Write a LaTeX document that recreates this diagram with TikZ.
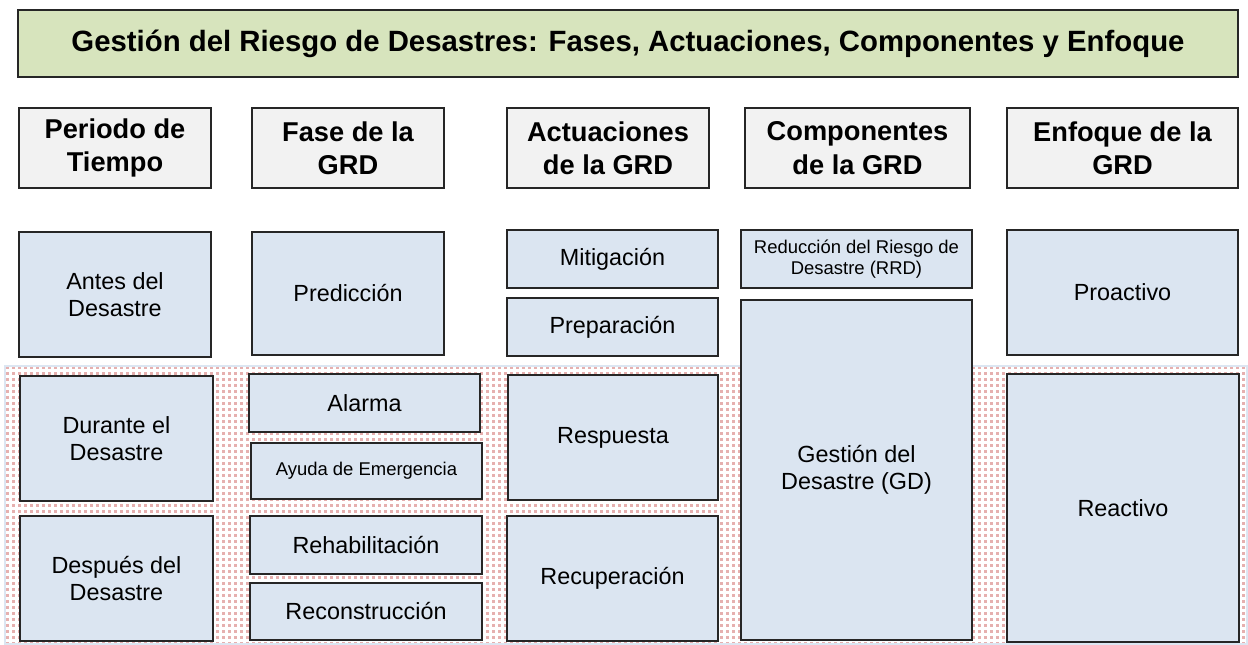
\documentclass[tikz,border=0pt]{standalone}
\usepackage{fontspec}
\setmainfont{Liberation Sans}
\usetikzlibrary{patterns.meta}
\definecolor{titlegreen}{HTML}{D7E4BD}
\definecolor{headgray}{HTML}{F2F2F2}
\definecolor{cellblue}{HTML}{DBE5F1}
\definecolor{dotpink}{HTML}{E6B0AF}
\definecolor{edgeblue}{HTML}{DCE6F2}

\tikzdeclarepattern{
  name=pinkdots,
  type=uncolored,
  bounding box={(0pt,0pt) and (3.2pt,3.2pt)},
  tile size={(3.2pt,3.2pt)},
  code={\fill (0pt,0pt) rectangle (1.7pt,1.7pt);}
}

\begin{document}
\begin{tikzpicture}[
    x=0.02cm, y=-0.02cm,
    box/.style={draw=black!85, line width=0.8pt, inner sep=0pt, align=center},
    titlebox/.style={box, fill=titlegreen, font=\fontsize{16.7}{19}\selectfont\bfseries},
    head/.style={box, fill=headgray, minimum height=1.6cm, font=\fontsize{15.5}{19}\selectfont\bfseries},
    cell/.style={box, fill=cellblue, font=\fontsize{13.3}{15.3}\selectfont},
    small/.style={cell, font=\fontsize{10.5}{12}\selectfont}
]
\useasboundingbox (0,0) rectangle (1248,645);

% Fondo de las fases durante y despues
\draw[edgeblue, line width=1.2pt, pattern=pinkdots, pattern color=dotpink] (5,366) rectangle (1247,644);

% Titulo
\node[titlebox, minimum width=24.4cm, minimum height=1.34cm] (titulo) at (628,43.5)
    {Gestión del Riesgo de Desastres: Fases, Actuaciones, Componentes y Enfoque};

% Encabezados
\node[head, minimum width=3.84cm] (periodo) at (115,148) {Periodo de\\Tiempo};
\node[head, minimum width=3.84cm] (fase) at (348,148) {Fase de la\\GRD};
\node[head, minimum width=4.04cm] (actuaciones) at (608,148) {Actuaciones\\de la GRD};
\node[head, minimum width=4.5cm] (componentes) at (857.5,148) {Componentes\\de la GRD};
\node[head, minimum width=4.62cm] (enfoque) at (1122.5,148) {Enfoque de la\\GRD};

% Antes del desastre
\node[cell, minimum width=3.84cm, minimum height=2.5cm] (antes) at (115,294.5) {Antes del\\Desastre};
\node[cell, minimum width=3.84cm, minimum height=2.46cm] (prediccion) at (348,293.5) {Predicción};
\node[cell, minimum width=4.22cm, minimum height=1.16cm] (mitigacion) at (612.5,259) {Mitigación};
\node[cell, minimum width=4.22cm, minimum height=1.16cm] (preparacion) at (612.5,327) {Preparación};
\node[small, minimum width=4.62cm, minimum height=1.16cm] (rrd) at (856.5,259) {Reducción del Riesgo de\\Desastre (RRD)};
\node[cell, minimum width=4.62cm, minimum height=2.5cm] (proactivo) at (1122.5,292.5) {Proactivo};

% Durante y despues del desastre
\node[cell, minimum width=3.86cm, minimum height=2.5cm] (durante) at (116.5,438.5) {Durante el\\Desastre};
\node[cell, minimum width=3.86cm, minimum height=2.5cm] (despues) at (116.5,578.5) {Después del\\Desastre};
\node[cell, minimum width=4.62cm, minimum height=1.16cm] (alarma) at (364.5,403) {Alarma};
\node[small, minimum width=4.62cm, minimum height=1.12cm] (ayuda) at (366.5,471) {Ayuda de Emergencia};
\node[cell, minimum width=4.64cm, minimum height=1.16cm] (rehabilitacion) at (366,545) {Rehabilitación};
\node[cell, minimum width=4.64cm, minimum height=1.14cm] (reconstruccion) at (366,611.5) {Reconstrucción};
\node[cell, minimum width=4.2cm, minimum height=2.5cm] (respuesta) at (613,437.5) {Respuesta};
\node[cell, minimum width=4.22cm, minimum height=2.5cm] (recuperacion) at (612.5,578.5) {Recuperación};
\node[cell, minimum width=4.62cm, minimum height=6.8cm] (gd) at (856.5,470) {Gestión del\\Desastre (GD)};
\node[cell, minimum width=4.64cm, minimum height=5.36cm] (reactivo) at (1123,508) {Reactivo};

\end{tikzpicture}
\end{document}
